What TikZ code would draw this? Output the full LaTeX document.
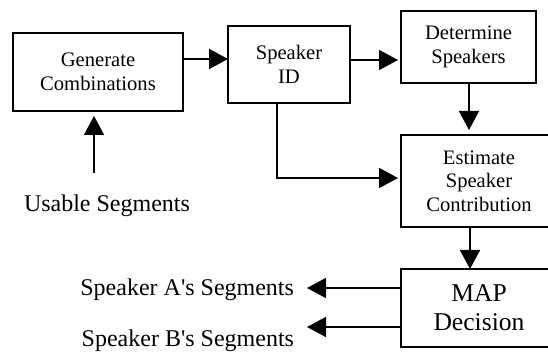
\documentclass[tikz,border=0pt]{standalone}
\usepackage{fontspec}
\setmainfont{Liberation Serif}[Ligatures=TeXOff]
\usetikzlibrary{arrows.meta}
\begin{document}
\begin{tikzpicture}[x=1pt,y=-1pt,
  box/.style={draw,line width=1.6pt,rectangle,inner sep=0pt,outer sep=0pt,align=center,
    font=\fontsize{20.6}{23.5}\selectfont},
  lab/.style={inner sep=0pt,outer sep=0pt,font=\fontsize{24}{28}\selectfont},
  arr/.style={line width=1.6pt,-{Triangle[length=19pt,width=20pt]}}]
\useasboundingbox (0,0) rectangle (548,352);
\clip (0,0) rectangle (548,352);
\node[box,minimum width=170pt,minimum height=78pt] (gen) at (98,72) {Generate\\Combinations};
\node[box,minimum width=122pt,minimum height=77pt] (sid) at (289,64.5) {Speaker\\ID};
\node[box,minimum width=135pt,minimum height=72pt] (det) at (468.5,47) {Determine\\Speakers};
\node[box,minimum width=156pt,minimum height=92pt] (est) at (479,181) {Estimate\\Speaker\\Contribution};
\node[box,minimum width=156pt,minimum height=78pt,font=\fontsize{25.6}{29}\selectfont] (map) at (479,308) {MAP\\Decision};
\node[lab,anchor=base west] (us) at (24,212) {Usable Segments};
\node[lab,anchor=base east] (la) at (294,295) {Speaker A's Segments};
\node[lab,anchor=base east] (lb) at (294,346) {Speaker B's Segments};
\coordinate (usStart) at (94,173);
\coordinate (aEnd) at (307,288);
\coordinate (bEnd) at (307,327);
\coordinate (turn) at (277,178);
% connectors
\draw[arr] (gen.east |- 0,59) -- (sid.west |- 0,59);
\draw[arr,shorten >=3pt] (sid.east |- 0,60) -- (det.west |- 0,60);
\draw[arr,shorten >=5pt] (det.south -| 469,0) -- (est.north -| 469,0);
\draw[arr] (est.south -| 470,0) -- (map.north -| 470,0);
\draw[arr,shorten >=3pt] (sid.south -| turn) -- (turn) -- (est.west |- turn);
\draw[arr,shorten >=5pt] (usStart) -- (usStart |- gen.south);
\draw[arr] (map.west |- aEnd) -- (aEnd);
\draw[arr] (map.west |- bEnd) -- (bEnd);
\end{tikzpicture}
\end{document}
